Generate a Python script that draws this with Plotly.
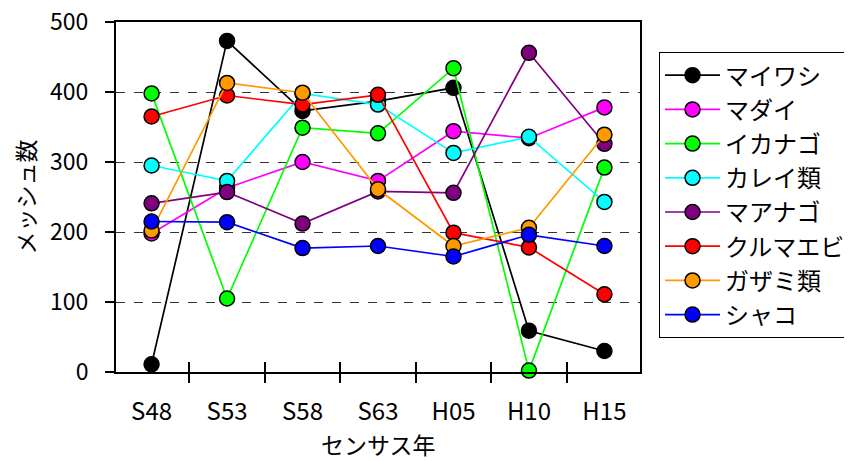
import plotly.graph_objects as go

years = ["S48", "S53", "S58", "S63", "H05", "H10", "H15"]
names = ["マイワシ", "マダイ", "イカナゴ", "カレイ類", "マアナゴ", "クルマエビ", "ガザミ類", "シャコ"]
maiwashi = [11, 473, 373, 387, 406, 59, 30]
madai = [198, 263, 300, 273, 344, 334, 378]
ikanago = [398, 105, 349, 341, 434, 2, 292]
karei = [295, 273, 398, 382, 313, 336, 243]
maanago = [241, 257, 212, 258, 256, 456, 326]
kuruma = [365, 395, 382, 396, 199, 178, 111]
gazami = [202, 413, 399, 261, 180, 206, 339]
shako = [215, 214, 177, 180, 165, 196, 180]
series = [maiwashi, madai, ikanago, karei, maanago, kuruma, gazami, shako]
colors = ["#000000", "#FF00FF", "#00FF00", "#00FFFF", "#800080", "#FF0000", "#FF9900", "#0000FF"]
x_title = "センサス年"
y_title = "メッシュ数"

FONT = "Noto Sans CJK JP, Noto Sans, sans-serif"

fig = go.Figure()
for i, (n, vals, c) in enumerate(zip(names, series, colors)):
    fig.add_trace(go.Scatter(
        x=years, y=vals, name=n, mode="lines+markers",
        line=dict(color=c, width=1.7),
        marker=dict(size=15, color=c, line=dict(color="black", width=1.5)),
        cliponaxis=False, legendgroup=f"g{i}",
    ))
# helper invisible trace for inside x ticks
fig.add_trace(go.Scatter(x=years, y=[None]*len(years), xaxis="x2", showlegend=False, hoverinfo="skip"))

fig.add_annotation(
    text=x_title, xref="paper", yref="paper", x=0.5, y=-0.205,
    xanchor="center", yanchor="middle", showarrow=False,
    font=dict(family=FONT, size=23, color="black"),
)

fig.update_layout(
    template="none",
    width=844, height=453,
    margin=dict(l=108, r=212, t=14, b=89, autoexpand=False),
    paper_bgcolor="white", plot_bgcolor="white",
    font=dict(family=FONT, size=23, color="black"),
    showlegend=True,
    legend=dict(
        x=1.0363, y=0.914, xanchor="left", yanchor="top",
        bordercolor="black", borderwidth=1, bgcolor="white",
        font=dict(family=FONT, size=24, color="black"),
        tracegroupgap=0, itemwidth=55,
    ),
    xaxis=dict(
        type="category", showline=True, linecolor="black", linewidth=2,
        mirror=True, ticks="outside", ticklen=9, tickwidth=1.5, tickcolor="black",
        tickson="boundaries", showgrid=False, zeroline=False, automargin=True,
        ticklabelstandoff=17, ticklabeloverflow="allow",
        tickfont=dict(family=FONT, size=24, color="black"),
    ),
    xaxis2=dict(
        type="category", overlaying="x", matches="x", side="bottom",
        ticks="inside", ticklen=10, tickwidth=1.5, tickcolor="black", automargin=False,
        tickson="boundaries", showticklabels=False, showgrid=False, showline=False, zeroline=False,
    ),
    yaxis=dict(
        range=[0, 500], dtick=100, showline=True, linecolor="black", linewidth=2,
        mirror=True, ticks="outside", ticklen=9, tickwidth=1.5, tickcolor="black",
        showgrid=True, gridcolor="#333333", griddash="dash", gridwidth=1,
        zeroline=False, automargin=True, ticklabelstandoff=12, ticklabeloverflow="allow",
        tickfont=dict(family=FONT, size=23, color="black"),
        title=dict(text=y_title, font=dict(family=FONT, size=23, color="black"), standoff=16),
    ),
)

fig.write_html("out.html")
